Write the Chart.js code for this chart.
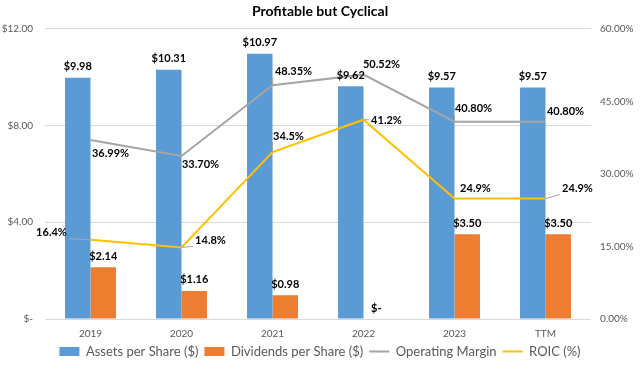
<!DOCTYPE html>
<html>
<head>
<meta charset="utf-8">
<script src="https://cdn.jsdelivr.net/npm/chart.js@4"></script>
<style>
  html, body { margin: 0; padding: 0; background: #fff; }
  #wrap { width: 640px; height: 368px; position: relative; }
</style>
</head>
<body>
<div id="wrap"><canvas id="c" width="640" height="368"></canvas></div>
<script>
const categories = ['2019', '2020', '2021', '2022', '2023', 'TTM'];
const assetsPerShare = [9.98, 10.31, 10.97, 9.62, 9.57, 9.57];
const dividendsPerShare = [2.14, 1.16, 0.98, 0, 3.50, 3.50];
const operatingMargin = [36.99, 33.70, 48.35, 50.52, 40.80, 40.80];
const roic = [16.4, 14.8, 34.5, 41.2, 24.9, 24.9];
const leftTicks = [0, 4, 8, 12];
const rightTicks = [0, 15, 30, 45, 60];

// label placement (offsets from the point, in px) and leader-line flags
const omLabelPos = [[20, 13, 0], [19, 8, 0], [21, -14, 1], [18, -10, 0], [19, -13, 1], [20, -10, 0]];
const roicLabelPos = [[-39, -7, 1], [29, -7, 1], [16, -16, 1], [23, 1, 1], [21, -10, 0], [32, -10, 1]];

const LABEL_FONT = 'bold 11px Lato, "Open Sans", sans-serif';

const dataLabels = {
  id: 'dataLabels',
  afterDatasetsDraw(chart) {
    const ctx = chart.ctx;
    ctx.save();
    ctx.font = LABEL_FONT;
    ctx.textAlign = 'center';
    ctx.textBaseline = 'middle';
    chart.data.datasets.forEach((ds, di) => {
      const meta = chart.getDatasetMeta(di);
      meta.data.forEach((el, i) => {
        const v = ds.data[i];
        let txt, x, y, pos = null;
        if (ds.type === 'bar') {
          txt = v === 0 ? '$-' : '$' + v.toFixed(2);
          x = el.x; y = el.y - 11;
        } else {
          pos = ds.labelPos[i];
          txt = ds.fmt(v);
          x = el.x + pos[0]; y = el.y + pos[1];
        }
        if (pos && pos[2]) {
          const w = ctx.measureText(txt).width / 2 + 2, h = 6;
          const cx = Math.max(x - w, Math.min(el.x, x + w));
          const cy = Math.max(y - h, Math.min(el.y, y + h));
          ctx.strokeStyle = '#A5A5A5';
          ctx.lineWidth = 1;
          ctx.beginPath();
          ctx.moveTo(cx, cy);
          ctx.lineTo(el.x, el.y);
          ctx.stroke();
        }
        ctx.fillStyle = '#000';
        ctx.fillText(txt, x, y);
      });
    });
    ctx.restore();
  }
};

new Chart(document.getElementById('c'), {
  data: {
    labels: categories,
    datasets: [
      { type: 'bar', label: 'Assets per Share ($)', data: assetsPerShare, backgroundColor: '#5B9BD5', borderWidth: 0, yAxisID: 'y', order: 1, pointStyle: 'rect' },
      { type: 'bar', label: 'Dividends per Share ($)', data: dividendsPerShare, backgroundColor: '#ED7D31', borderWidth: 0, yAxisID: 'y', order: 1, pointStyle: 'rect' },
      { type: 'line', label: 'Operating Margin', data: operatingMargin, borderColor: '#A5A5A5', backgroundColor: '#A5A5A5', borderWidth: 2, pointRadius: 0, yAxisID: 'y1', order: 0, pointStyle: 'line', labelPos: omLabelPos, fmt: v => v.toFixed(2) + '%' },
      { type: 'line', label: 'ROIC (%)', data: roic, borderColor: '#FFC000', backgroundColor: '#FFC000', borderWidth: 2, pointRadius: 0, yAxisID: 'y1', order: 0, pointStyle: 'line', labelPos: roicLabelPos, fmt: v => v.toFixed(1) + '%' }
    ]
  },
  options: {
    responsive: false,
    animation: false,
    layout: { padding: { left: 0, right: 0, top: 0, bottom: 0 } },
    datasets: { bar: { categoryPercentage: 0.56, barPercentage: 1.0 } },
    plugins: {
      tooltip: { enabled: false },
      title: {
        display: true,
        text: 'Profitable but Cyclical',
        color: '#000',
        font: { family: 'Lato, "Open Sans", sans-serif', size: 14, weight: 'bold' },
        padding: { top: 3, bottom: 9 }
      },
      legend: {
        position: 'bottom',
        labels: {
          usePointStyle: true,
          pointStyleWidth: 20,
          boxHeight: 9,
          padding: 6,
          color: '#595959',
          font: { family: 'Lato, "Open Sans", sans-serif', size: 13 },
          sort: (a, b) => a.datasetIndex - b.datasetIndex
        }
      }
    },
    scales: {
      x: {
        grid: { display: false },
        border: { display: false },
        ticks: { color: '#595959', font: { family: 'Lato, sans-serif', size: 10 }, padding: 1 },
        afterFit: s => { s.height = 20; }
      },
      y: {
        position: 'left',
        min: 0, max: 12,
        afterBuildTicks: s => { s.ticks = leftTicks.map(v => ({ value: v })); },
        ticks: {
          color: '#595959', font: { family: 'Lato, sans-serif', size: 10 }, padding: 12,
          callback: v => v === 0 ? '$-' : '$' + v.toFixed(2)
        },
        grid: { color: '#D9D9D9', lineWidth: 1, drawTicks: false },
        border: { display: false },
        afterFit: s => { s.width = 45; }
      },
      y1: {
        position: 'right',
        min: 0, max: 60,
        afterBuildTicks: s => { s.ticks = rightTicks.map(v => ({ value: v })); },
        ticks: {
          color: '#595959', font: { family: 'Lato, sans-serif', size: 10 }, padding: 9,
          callback: v => v.toFixed(2) + '%'
        },
        grid: { display: false, drawTicks: false },
        border: { display: false },
        afterFit: s => { s.width = 49; }
      }
    }
  },
  plugins: [dataLabels]
});
</script>
</body>
</html>
